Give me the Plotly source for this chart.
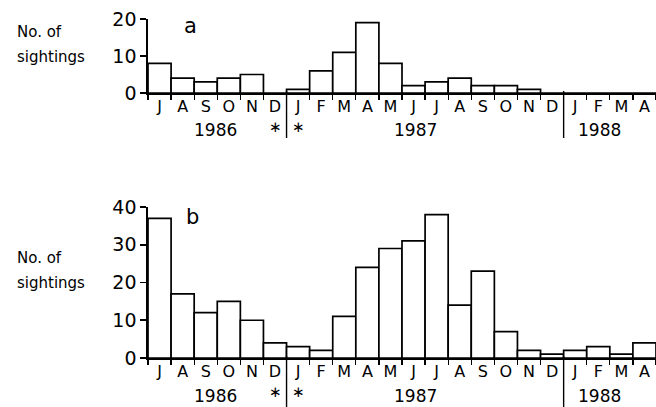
import plotly.graph_objects as go

months = ["J","A","S","O","N","D","J","F","M","A","M","J","J","A","S","O","N","D","J","F","M","A"]
sightings_a = [8,4,3,4,5,0,1,6,11,19,8,2,3,4,2,2,1,0,0,0,0,0]
sightings_b = [37,17,12,15,10,4,3,2,11,24,29,31,38,14,23,7,2,1,2,3,1,4]
years = ["1986","1987","1988"]
year_pos = [2.44, 11.1, 19.07]
star_pos = [5, 6]
divider_pos = [5.5, 17.5]

W, H = 656, 407
FONT = "DejaVu Sans"
x = list(range(len(months)))

fig = go.Figure()
for vals, xa, ya in [(sightings_a, "x", "y"), (sightings_b, "x2", "y2")]:
    fig.add_trace(go.Bar(x=x, y=vals, width=1, xaxis=xa, yaxis=ya,
                         marker=dict(color="white", line=dict(color="black", width=1.7)),
                         showlegend=False, hoverinfo="skip"))

def px_y(p):
    return 1 - p / H

xdom = [148 / W, 1.0]
bounds = [i - 0.5 for i in range(len(months) + 1)]

xcommon = dict(range=[-0.5, len(months) - 0.5], showline=True, linecolor="black", linewidth=1.7,
               tickvals=x, ticktext=months, ticks="", showgrid=False, zeroline=False,
               tickfont=dict(family=FONT, size=16, color="black"), ticklabelstandoff=-2,
               minor=dict(tickvals=bounds, ticks="outside", ticklen=5, tickcolor="black", tickwidth=1.2),
               fixedrange=True, automargin=False)
ycommon = dict(showline=True, linecolor="black", linewidth=1.7, ticks="outside", ticklen=6,
               tickwidth=1.6, tickcolor="black", showgrid=False, zeroline=False, fixedrange=True,
               tickfont=dict(family=FONT, size=19, color="black"), automargin=False)

fig.update_layout(
    width=W, height=H, paper_bgcolor="white", plot_bgcolor="white",
    margin=dict(l=0, r=0, t=0, b=0), bargap=0,
    xaxis=dict(domain=xdom, anchor="y", **xcommon),
    yaxis=dict(domain=[px_y(93), px_y(19)], range=[0, 20], tickvals=[0, 10, 20], anchor="x", **ycommon),
    xaxis2=dict(domain=xdom, anchor="y2", **xcommon),
    yaxis2=dict(domain=[px_y(358), px_y(207)], range=[0, 40], tickvals=[0, 10, 20, 30, 40], anchor="x2", **ycommon),
)

for xa, ya, base_px, div_bottom_px, top_a, star_a in [("x", "y", 93, 138, 130, 127), ("x2", "y2", 358, 407, 396, 392)]:
    for d in divider_pos:
        fig.add_shape(type="line", xref=xa, yref="paper", x0=d, x1=d,
                      y0=px_y(div_bottom_px), y1=px_y(base_px) + 0.005,
                      line=dict(color="black", width=1.4))
    for yl, xp in zip(years, year_pos):
        fig.add_annotation(xref=xa, yref="paper", x=xp, y=px_y(top_a), text=yl, showarrow=False,
                           xanchor="center", yanchor="middle",
                           font=dict(family=FONT, size=17, color="black"))
    for sp in star_pos:
        fig.add_annotation(xref=xa, yref="paper", x=sp, y=px_y(star_a), text="∗", showarrow=False,
                           xanchor="center", yanchor="middle",
                           font=dict(family=FONT, size=15, color="black"))

fig.add_annotation(xref="paper", yref="paper", x=190 / W, y=px_y(26), text="a", showarrow=False,
                   xanchor="center", yanchor="middle", font=dict(family=FONT, size=21, color="black"))
fig.add_annotation(xref="paper", yref="paper", x=192 / W, y=px_y(217), text="b", showarrow=False,
                   xanchor="center", yanchor="middle", font=dict(family=FONT, size=21, color="black"))

for ypx in [(32, 57), (258, 283)]:
    fig.add_annotation(xref="paper", yref="paper", x=15 / W, y=px_y(ypx[0]), text="No. of",
                       showarrow=False, xanchor="left", yanchor="middle",
                       font=dict(family=FONT, size=15, color="black"))
    fig.add_annotation(xref="paper", yref="paper", x=15 / W, y=px_y(ypx[1]), text="sightings",
                       showarrow=False, xanchor="left", yanchor="middle",
                       font=dict(family=FONT, size=15, color="black"))

fig.write_html("out.html", config={"displayModeBar": False, "staticPlot": True},
               post_script="document.body.style.margin='0';document.body.style.overflow='hidden';")
